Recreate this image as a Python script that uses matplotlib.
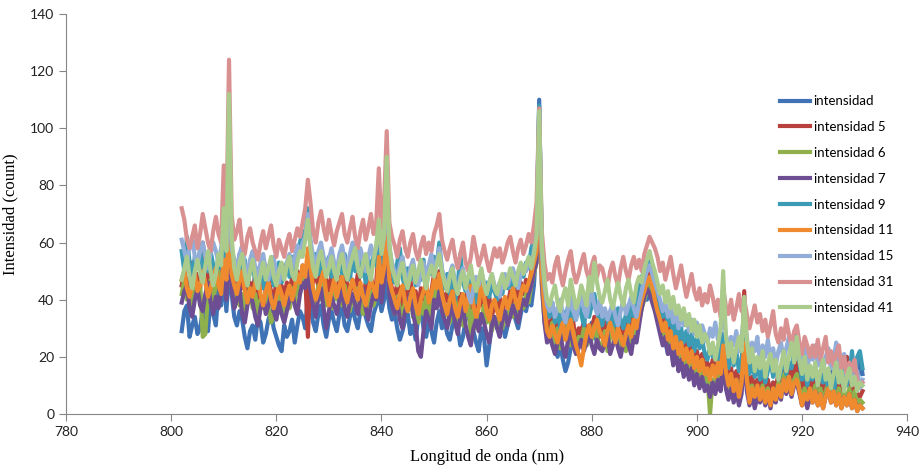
import matplotlib
matplotlib.use("Agg")
import matplotlib.pyplot as plt

# wavelength grid (nm), 0.5 nm step from 802 to 931.5
wavelength = [802 + 0.5 * i for i in range(260)]

intensidad = [
    29, 36, 38, 27, 31, 34, 28, 30, 36, 33, 29, 40, 35, 31, 44, 38, 49, 36, 50, 42,
    34, 31, 36, 33, 27, 23, 29, 31, 26, 34, 32, 25, 28, 33, 36, 30, 27, 24, 22, 31,
    27, 29, 33, 25, 31, 36, 34, 30, 41, 37, 32, 29, 35, 38, 31, 27, 33, 36, 32, 29,
    35, 38, 31, 29, 34, 37, 33, 30, 36, 39, 34, 31, 29, 35, 38, 42, 36, 40, 46, 37,
    33, 36, 30, 26, 29, 33, 35, 28, 31, 26, 34, 37, 30, 27, 33, 29, 25, 32, 36, 30,
    33, 28, 26, 31, 35, 30, 24, 27, 33, 36, 31, 29, 25, 22, 30, 27, 17, 24, 31, 34,
    30, 35, 32, 27, 31, 36, 38, 33, 30, 35, 39, 36, 41, 38, 45, 60, 110, 55, 40, 28,
    31, 26, 23, 20, 25, 19, 15, 18, 23, 27, 22, 25, 30, 27, 24, 28, 32, 29, 25, 31,
    28, 25, 30, 33, 29, 26, 24, 29, 32, 27, 30, 34, 31, 28, 33, 37, 42, 40, 45, 43,
    40, 36, 32, 28, 25, 21, 24, 18, 21, 16, 19, 14, 18, 13, 17, 12, 15, 11, 14, 10,
    13, 9, 12, 8, 11, 14, 20, 12, 8, 11, 7, 10, 6, 9, 25, 10, 6, 9, 5, 8,
    7, 10, 4, 9, 6, 11, 8, 13, 9, 15, 11, 18, 13, 22, 28, 16, 10, 13, 8, 12,
    14, 9, 6, 11, 8, 13, 10, 15, 12, 8, 12, 17, 9, 20, 14, 6, 18, 10, 20, 14,
]
intensidad_5 = [
    45, 50, 43, 48, 53, 46, 49, 44, 60, 52, 45, 50, 44, 49, 53, 47, 58, 50, 70, 51,
    46, 42, 48, 44, 50, 41, 46, 43, 49, 40, 45, 48, 42, 47, 43, 40, 46, 42, 45, 41,
    46, 42, 48, 44, 50, 46, 52, 48, 27, 50, 46, 51, 44, 49, 42, 47, 43, 49, 45, 42,
    48, 43, 50, 45, 42, 47, 43, 49, 44, 40, 46, 42, 48, 43, 46, 58, 47, 52, 70, 48,
    44, 40, 46, 42, 38, 45, 41, 47, 39, 43, 37, 44, 40, 46, 38, 43, 49, 45, 50, 43,
    39, 43, 37, 41, 45, 38, 42, 36, 40, 44, 37, 42, 35, 40, 38, 43, 37, 41, 34, 39,
    36, 41, 35, 40, 38, 43, 39, 44, 41, 46, 42, 47, 44, 50, 54, 58, 102, 50, 38, 32,
    30, 35, 28, 33, 26, 32, 29, 35, 27, 32, 24, 30, 28, 33, 27, 31, 29, 34, 30, 27,
    28, 33, 26, 31, 35, 29, 32, 27, 31, 26, 33, 29, 35, 31, 37, 41, 45, 48, 50, 46,
    42, 38, 35, 31, 34, 28, 31, 25, 29, 23, 27, 21, 25, 20, 24, 18, 22, 17, 21, 16,
    18, 14, 19, 15, 20, 16, 26, 17, 12, 16, 11, 15, 10, 14, 43, 16, 9, 13, 8, 12,
    9, 13, 8, 12, 7, 11, 9, 14, 10, 16, 12, 17, 11, 15, 18, 12, 8, 12, 7, 11,
    9, 14, 8, 12, 7, 11, 15, 9, 13, 7, 11, 6, 10, 20, 12, 8, 12, 7, 6, 8,
]
intensidad_6 = [
    42, 47, 40, 45, 38, 44, 41, 46, 27, 28, 42, 47, 40, 45, 50, 43, 48, 44, 62, 45,
    40, 45, 38, 42, 35, 41, 44, 37, 42, 35, 40, 37, 43, 38, 32, 35, 39, 43, 37, 34,
    41, 37, 44, 39, 46, 42, 49, 47, 54, 48, 42, 38, 45, 40, 47, 38, 42, 37, 44, 40,
    43, 38, 45, 40, 36, 42, 38, 44, 39, 35, 41, 37, 43, 38, 41, 50, 42, 47, 62, 43,
    39, 35, 41, 37, 33, 40, 36, 42, 34, 38, 32, 39, 35, 41, 33, 38, 44, 40, 44, 38,
    34, 38, 32, 36, 41, 33, 37, 31, 35, 39, 28, 37, 30, 35, 33, 38, 32, 36, 29, 34,
    31, 36, 30, 35, 33, 38, 34, 39, 36, 41, 37, 42, 39, 45, 49, 53, 99, 45, 33, 27,
    27, 32, 25, 30, 23, 29, 26, 32, 24, 29, 21, 27, 25, 30, 24, 28, 26, 31, 27, 24,
    24, 29, 22, 27, 31, 25, 28, 23, 27, 22, 29, 25, 31, 27, 33, 37, 40, 43, 46, 42,
    40, 35, 32, 27, 31, 24, 28, 21, 26, 19, 23, 17, 21, 15, 20, 14, 18, 13, 17, 12,
    13, 0, 12, 9, 14, 11, 22, 14, 9, 13, 8, 12, 7, 11, 28, 12, 6, 10, 5, 9,
    6, 10, 5, 9, 4, 8, 6, 11, 7, 14, 9, 13, 8, 12, 14, 9, 5, 9, 4, 8,
    6, 10, 5, 9, 4, 8, 11, 6, 9, 5, 9, 4, 8, 5, 9, 4, 8, 3, 5, 4,
]
intensidad_7 = [
    39, 43, 45, 37, 34, 40, 44, 38, 36, 42, 46, 39, 35, 41, 37, 43, 47, 40, 60, 44,
    37, 40, 44, 35, 32, 38, 42, 39, 34, 31, 37, 41, 35, 38, 42, 36, 33, 39, 35, 32,
    36, 40, 43, 38, 35, 42, 46, 44, 52, 43, 38, 34, 41, 44, 37, 30, 36, 41, 38, 35,
    40, 43, 37, 34, 39, 42, 38, 35, 41, 44, 37, 33, 38, 42, 40, 48, 39, 46, 60, 42,
    38, 35, 40, 33, 30, 36, 39, 42, 35, 31, 22, 20, 29, 36, 33, 30, 40, 37, 43, 36,
    33, 30, 35, 38, 32, 28, 34, 37, 31, 27, 24, 30, 33, 29, 35, 32, 28, 25, 31, 34,
    30, 27, 33, 36, 31, 34, 38, 35, 32, 37, 40, 38, 42, 45, 50, 53, 98, 46, 32, 25,
    27, 24, 21, 25, 28, 23, 20, 26, 29, 24, 21, 23, 26, 22, 25, 28, 24, 21, 26, 23,
    22, 25, 28, 21, 24, 27, 23, 20, 25, 28, 24, 21, 27, 25, 31, 37, 41, 44, 42, 39,
    36, 32, 28, 24, 27, 21, 24, 17, 22, 15, 19, 13, 17, 12, 16, 10, 14, 9, 13, 8,
    10, 6, 11, 7, 12, 8, 18, 9, 5, 9, 4, 8, 3, 7, 22, 8, 3, 7, 2, 6,
    4, 8, 3, 7, 2, 7, 4, 9, 5, 12, 7, 11, 6, 10, 11, 7, 3, 6, 2, 6,
    4, 8, 3, 7, 2, 6, 9, 4, 7, 3, 7, 2, 6, 3, 7, 2, 5, 1, 3, 2,
]
intensidad_9 = [
    57, 50, 62, 53, 48, 55, 51, 58, 49, 54, 50, 57, 52, 47, 56, 51, 62, 54, 75, 53,
    51, 47, 56, 50, 54, 45, 50, 53, 46, 51, 48, 44, 52, 47, 50, 45, 49, 53, 46, 50,
    53, 48, 55, 50, 57, 60, 64, 62, 72, 58, 52, 56, 49, 54, 47, 52, 55, 48, 53, 50,
    54, 49, 56, 51, 47, 55, 50, 57, 48, 52, 46, 54, 50, 56, 52, 64, 53, 60, 78, 56,
    50, 46, 53, 58, 48, 44, 51, 47, 52, 45, 50, 47, 54, 46, 51, 49, 55, 52, 60, 50,
    44, 49, 42, 47, 40, 45, 56, 46, 43, 48, 41, 46, 39, 44, 48, 42, 46, 41, 45, 43,
    40, 46, 42, 48, 44, 47, 43, 49, 46, 50, 48, 53, 51, 58, 62, 66, 108, 58, 42, 36,
    34, 39, 32, 37, 30, 36, 33, 38, 31, 36, 33, 39, 35, 31, 37, 34, 38, 42, 36, 33,
    31, 36, 33, 29, 35, 31, 37, 33, 30, 35, 32, 38, 34, 40, 45, 48, 50, 53, 55, 51,
    47, 42, 38, 34, 37, 31, 34, 28, 32, 26, 30, 25, 29, 24, 28, 22, 27, 23, 26, 21,
    19, 24, 20, 23, 18, 22, 28, 20, 16, 21, 17, 22, 15, 19, 30, 20, 14, 18, 13, 17,
    12, 16, 11, 15, 19, 13, 17, 12, 15, 20, 14, 18, 16, 22, 24, 18, 12, 16, 10, 15,
    12, 17, 10, 15, 11, 14, 9, 13, 8, 12, 16, 11, 18, 10, 14, 22, 12, 20, 22, 16,
]
intensidad_11 = [
    47, 50, 44, 41, 46, 49, 43, 45, 50, 46, 41, 44, 48, 51, 45, 42, 54, 47, 65, 49,
    45, 42, 47, 50, 43, 39, 44, 41, 46, 49, 42, 38, 43, 46, 40, 37, 41, 45, 42, 38,
    42, 45, 40, 44, 49, 46, 52, 48, 58, 51, 44, 40, 43, 47, 50, 42, 38, 43, 47, 41,
    45, 48, 42, 39, 44, 47, 43, 40, 46, 41, 38, 43, 47, 44, 41, 55, 46, 51, 65, 47,
    43, 40, 37, 42, 45, 39, 36, 41, 44, 38, 35, 40, 43, 46, 39, 42, 47, 44, 49, 42,
    38, 35, 40, 43, 37, 34, 39, 42, 36, 41, 45, 38, 34, 37, 48, 41, 36, 33, 38, 40,
    36, 33, 38, 41, 37, 40, 44, 40, 37, 42, 45, 43, 46, 49, 53, 57, 100, 49, 37, 29,
    27, 31, 28, 25, 29, 32, 26, 30, 33, 28, 24, 21, 17, 23, 28, 31, 27, 30, 33, 29,
    27, 24, 29, 32, 28, 25, 30, 27, 24, 28, 31, 27, 33, 30, 36, 40, 43, 46, 48, 45,
    40, 36, 33, 29, 32, 26, 29, 23, 27, 21, 25, 19, 23, 18, 22, 16, 20, 15, 19, 14,
    16, 12, 17, 13, 18, 14, 24, 15, 10, 14, 8, 12, 6, 11, 25, 12, 4, 9, 6, 10,
    5, 9, 4, 8, 3, 9, 5, 10, 6, 12, 8, 13, 7, 11, 12, 8, 3, 7, 5, 9,
    4, 8, 3, 7, 2, 6, 9, 4, 8, 3, 7, 2, 6, 3, 7, 2, 5, 1, 3, 2,
]
intensidad_15 = [
    61, 57, 53, 58, 62, 55, 52, 57, 60, 55, 51, 56, 60, 57, 53, 58, 68, 59, 80, 58,
    54, 51, 56, 59, 52, 49, 54, 57, 51, 48, 53, 56, 50, 47, 52, 55, 49, 46, 51, 48,
    53, 56, 51, 55, 59, 55, 60, 62, 70, 61, 55, 52, 57, 60, 55, 51, 54, 58, 53, 50,
    56, 59, 54, 51, 56, 60, 55, 52, 58, 54, 50, 55, 59, 55, 58, 66, 57, 62, 80, 58,
    53, 50, 47, 52, 55, 49, 46, 51, 54, 48, 45, 50, 53, 48, 52, 56, 50, 53, 58, 51,
    47, 44, 49, 52, 46, 43, 48, 51, 45, 42, 39, 44, 48, 45, 50, 46, 42, 46, 49, 45,
    44, 41, 46, 49, 45, 48, 51, 47, 44, 49, 52, 50, 54, 52, 57, 63, 104, 57, 45, 38,
    36, 39, 34, 37, 40, 35, 32, 37, 41, 36, 33, 38, 42, 37, 34, 39, 43, 38, 35, 40,
    34, 37, 33, 36, 39, 34, 31, 36, 40, 35, 38, 41, 37, 34, 39, 43, 47, 50, 52, 49,
    46, 43, 40, 36, 39, 34, 37, 32, 36, 30, 35, 31, 34, 29, 33, 28, 32, 27, 31, 28,
    25, 30, 27, 32, 26, 29, 35, 28, 23, 27, 24, 29, 22, 27, 35, 27, 20, 25, 22, 27,
    18, 24, 20, 26, 19, 23, 17, 22, 25, 19, 23, 27, 21, 24, 26, 20, 18, 23, 16, 21,
    19, 24, 17, 22, 15, 20, 23, 16, 19, 25, 14, 18, 21, 12, 17, 14, 11, 15, 9, 12,
]
intensidad_31 = [
    72, 68, 61, 58, 62, 66, 58, 63, 70, 65, 60, 57, 64, 69, 63, 60, 87, 66, 124, 70,
    61, 64, 68, 59, 56, 62, 65, 60, 57, 54, 60, 64, 58, 62, 66, 59, 55, 61, 58, 55,
    60, 63, 57, 61, 65, 62, 67, 72, 82, 74, 64, 60, 67, 71, 65, 61, 68, 63, 59, 64,
    67, 70, 63, 60, 65, 69, 62, 58, 64, 68, 61, 65, 70, 63, 67, 86, 65, 74, 99, 67,
    62, 59, 55, 61, 64, 58, 55, 60, 63, 57, 54, 59, 62, 56, 60, 57, 63, 66, 70, 61,
    57, 54, 58, 61, 55, 51, 56, 60, 53, 50, 55, 62, 57, 52, 55, 59, 54, 50, 54, 58,
    55, 58, 53, 56, 60, 62, 57, 53, 58, 61, 56, 59, 63, 60, 66, 74, 107, 64, 53, 47,
    49, 46, 52, 55, 49, 45, 50, 54, 57, 50, 46, 49, 53, 56, 50, 47, 52, 55, 48, 52,
    51, 47, 44, 50, 53, 48, 45, 51, 55, 50, 47, 52, 55, 51, 54, 50, 56, 59, 62, 60,
    58, 55, 50, 53, 47, 51, 55, 49, 44, 48, 52, 46, 41, 45, 49, 43, 40, 44, 38, 42,
    39, 45, 41, 36, 40, 34, 44, 38, 35, 40, 33, 37, 42, 36, 40, 35, 30, 34, 38, 32,
    35, 29, 33, 27, 31, 36, 28, 25, 30, 26, 33, 28, 24, 29, 31, 25, 21, 27, 24, 20,
    24, 20, 26, 19, 23, 27, 18, 22, 17, 21, 24, 16, 20, 14, 18, 15, 19, 12, 10, 11,
]
intensidad_41 = [
    47, 51, 55, 48, 44, 50, 54, 49, 46, 52, 57, 50, 45, 49, 56, 52, 72, 57, 112, 62,
    51, 47, 53, 56, 49, 45, 50, 54, 48, 44, 49, 53, 47, 51, 55, 48, 45, 50, 53, 47,
    52, 55, 49, 47, 53, 57, 55, 61, 68, 58, 51, 48, 54, 57, 52, 48, 51, 55, 50, 47,
    53, 56, 50, 47, 52, 55, 58, 51, 48, 53, 56, 50, 47, 54, 59, 68, 56, 63, 90, 60,
    51, 48, 45, 50, 53, 47, 44, 49, 52, 46, 50, 54, 48, 44, 49, 52, 48, 52, 56, 50,
    46, 43, 48, 51, 45, 42, 47, 50, 44, 48, 52, 46, 43, 47, 51, 45, 42, 46, 49, 44,
    42, 46, 49, 44, 47, 51, 48, 45, 50, 53, 49, 52, 55, 51, 56, 62, 106, 59, 47, 40,
    38, 42, 45, 39, 36, 41, 44, 38, 47, 42, 37, 40, 45, 42, 38, 48, 43, 53, 46, 41,
    39, 43, 47, 40, 37, 42, 46, 41, 38, 44, 47, 42, 39, 45, 48, 46, 51, 54, 57, 53,
    50, 46, 42, 45, 39, 43, 37, 41, 35, 38, 33, 37, 31, 35, 29, 33, 27, 31, 25, 28,
    26, 21, 25, 19, 24, 30, 50, 28, 20, 25, 18, 23, 27, 22, 41, 26, 18, 23, 15, 20,
    16, 22, 13, 18, 21, 15, 19, 12, 17, 22, 15, 20, 25, 18, 27, 19, 14, 20, 12, 17,
    13, 18, 10, 15, 19, 12, 16, 9, 14, 18, 11, 15, 8, 13, 16, 10, 13, 8, 11, 10,
]

series = [intensidad, intensidad_5, intensidad_6, intensidad_7, intensidad_9,
          intensidad_11, intensidad_15, intensidad_31, intensidad_41]
labels = ["intensidad", "intensidad 5", "intensidad 6", "intensidad 7",
          "intensidad 9", "intensidad 11", "intensidad 15", "intensidad 31",
          "intensidad 41"]
colors = ["#3F73B5", "#B8403D", "#8FB04A", "#6E4E93", "#3C9BB5",
          "#F08A2E", "#92ADD8", "#D99090", "#AACB8C"]

fig = plt.figure(figsize=(9.21, 4.68), dpi=100)
ax = fig.add_axes([0.0717, 0.1154, 0.9133, 0.8547])

for y, lab, c in zip(series, labels, colors):
    ax.plot(wavelength, y, color=c, linewidth=3.0, label=lab)

ax.set_xlim(780, 940)
ax.set_ylim(0, 140)
ax.set_xticks(range(780, 941, 20))
ax.set_yticks(range(0, 141, 20))

for s in ["top", "right"]:
    ax.spines[s].set_visible(False)
for s in ["left", "bottom"]:
    ax.spines[s].set_color("#868686")
ax.tick_params(direction="out", length=5, color="#868686", labelsize=10,
               labelcolor="#222222")
for t in ax.get_xticklabels() + ax.get_yticklabels():
    t.set_fontfamily("Lato")

ax.set_xlabel("Longitud de onda (nm)", family="Liberation Serif", fontsize=12,
              labelpad=8)
ax.set_ylabel("Intensidad (count)", family="Liberation Serif", fontsize=12,
              labelpad=8)

leg = fig.legend(loc="upper left", bbox_to_anchor=(0.834, 0.822), frameon=False,
                 handlelength=2.3, handletextpad=0.25, labelspacing=1.05,
                 prop={"family": "Lato", "size": 9.5})
for line in leg.get_lines():
    line.set_linewidth(3)

fig.savefig("out.png", dpi=100)
